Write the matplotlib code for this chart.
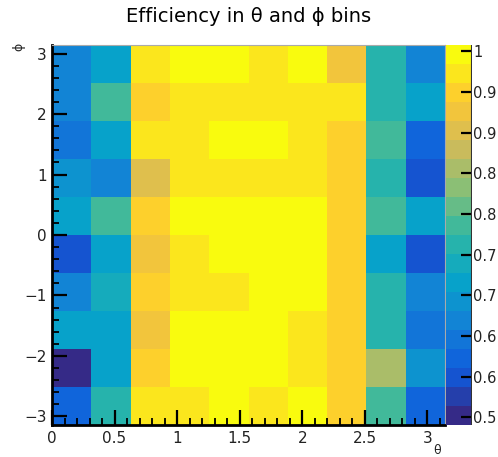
import numpy as np
import matplotlib
matplotlib.use("Agg")
import matplotlib.pyplot as plt
from matplotlib.colors import LinearSegmentedColormap, BoundaryNorm

# ---- data ----
theta_edges = np.linspace(0, np.pi, 11)
phi_edges = np.linspace(-np.pi, np.pi, 11)

# efficiency per (phi row from top, theta column)
eff_rows_top_to_bottom = [
    [0.63, 0.68, 0.95, 0.975, 0.975, 0.95, 0.975, 0.90, 0.73, 0.63],
    [0.63, 0.755, 0.925, 0.95, 0.95, 0.95, 0.95, 0.95, 0.73, 0.67],
    [0.60, 0.68, 0.95, 0.95, 0.975, 0.975, 0.95, 0.925, 0.755, 0.58],
    [0.66, 0.63, 0.875, 0.95, 0.95, 0.95, 0.95, 0.925, 0.73, 0.555],
    [0.68, 0.755, 0.925, 0.975, 0.975, 0.975, 0.975, 0.925, 0.755, 0.68],
    [0.555, 0.68, 0.90, 0.95, 0.975, 0.975, 0.975, 0.925, 0.68, 0.555],
    [0.63, 0.71, 0.925, 0.95, 0.95, 0.975, 0.975, 0.925, 0.73, 0.63],
    [0.68, 0.68, 0.90, 0.975, 0.975, 0.975, 0.95, 0.925, 0.73, 0.60],
    [0.51, 0.68, 0.925, 0.975, 0.975, 0.975, 0.95, 0.925, 0.815, 0.64],
    [0.57, 0.73, 0.95, 0.95, 0.975, 0.95, 0.975, 0.925, 0.755, 0.58],
]
z_min, z_max = 0.49, 0.99
cbar_tick_values = [0.5 + 0.0535 * k for k in range(10)]
cbar_tick_labels = ["0.5", "0.6", "0.6", "0.7", "0.7", "0.8", "0.8", "0.9", "0.9", "1"]
x_ticks = [0, 0.5, 1, 1.5, 2, 2.5, 3]
x_tick_labels = ["0", "0.5", "1", "1.5", "2", "2.5", "3"]
y_ticks = [-3, -2, -1, 0, 1, 2, 3]
y_tick_labels = ["\u22123", "\u22122", "\u22121", "0", "1", "2", "3"]

Z = np.array(eff_rows_top_to_bottom)[::-1]

# ROOT kBird palette
stops = [0.0, 0.125, 0.25, 0.375, 0.5, 0.625, 0.75, 0.875, 1.0]
red = [0.2082, 0.0592, 0.0780, 0.0232, 0.1802, 0.5301, 0.8186, 0.9956, 0.9764]
green = [0.1664, 0.3599, 0.5041, 0.6419, 0.7178, 0.7492, 0.7328, 0.7862, 0.9832]
blue = [0.5293, 0.8684, 0.8385, 0.7914, 0.6425, 0.4662, 0.3499, 0.1968, 0.0539]
bird = LinearSegmentedColormap.from_list(
    "bird", list(zip(stops, zip(red, green, blue))), N=256)
nlev = 20
cmap = bird.resampled(nlev)
levels = np.linspace(z_min, z_max, nlev + 1)
norm = BoundaryNorm(levels, nlev)

W, H = 498, 457
fig = plt.figure(figsize=(W / 100, H / 100), dpi=100)
ax = fig.add_axes([52 / W, 1 - 425 / H, (445 - 52) / W, (425 - 45) / H])
cax = fig.add_axes([446 / W, 1 - 425 / H, 26 / W, (425 - 45) / H])

mesh = ax.pcolormesh(theta_edges, phi_edges, Z, cmap=cmap, norm=norm)
ax.set_xlim(0, np.pi)
ax.set_ylim(-np.pi, np.pi)

tick_color = "#222222"
fs = 11
ax.set_xticks(x_ticks)
ax.set_xticklabels(x_tick_labels)
ax.set_yticks(y_ticks)
ax.set_yticklabels(y_tick_labels)
ax.set_xticks(np.arange(0, np.pi, 0.1), minor=True)
ax.set_yticks(np.arange(-3.0, 3.01, 0.2), minor=True)
ax.tick_params(which="major", direction="in", length=11, width=1.6, color="black",
               labelsize=fs, labelcolor=tick_color, top=False, right=False, pad=4)
ax.tick_params(which="minor", direction="in", length=5, width=1.3, color="black",
               top=False, right=False)
for s in ["left", "bottom"]:
    ax.spines[s].set_linewidth(2.0)
    ax.spines[s].set_color("black")
for s in ["top", "right"]:
    ax.spines[s].set_linewidth(0.8)
    ax.spines[s].set_color("#aaaaaa")

cb = fig.colorbar(mesh, cax=cax, ticks=cbar_tick_values, spacing="proportional")
cax.set_ylim(z_min, z_max)
cb.set_ticks(cbar_tick_values)
cb.set_ticklabels(cbar_tick_labels)
cax.tick_params(direction="in", length=8, width=1.6, color="black",
                labelsize=10.5, labelcolor=tick_color, pad=1)
cax.minorticks_off()
cb.outline.set_visible(False)
cax.axvline(1.0, color="#333333", lw=1.5)

fig.text(0.5, 1 - 17 / H, "Efficiency in \u03b8 and \u03d5 bins", ha="center", va="center",
         fontsize=14, color="black")
fig.text(437 / W, 1 - 451 / H, "\u03b8", ha="center", va="center", fontsize=9, color=tick_color)
fig.text(19 / W, 1 - 47 / H, "\u03d5", ha="center", va="center", fontsize=9,
         rotation=90, color=tick_color)

fig.savefig("out.png", dpi=100)
